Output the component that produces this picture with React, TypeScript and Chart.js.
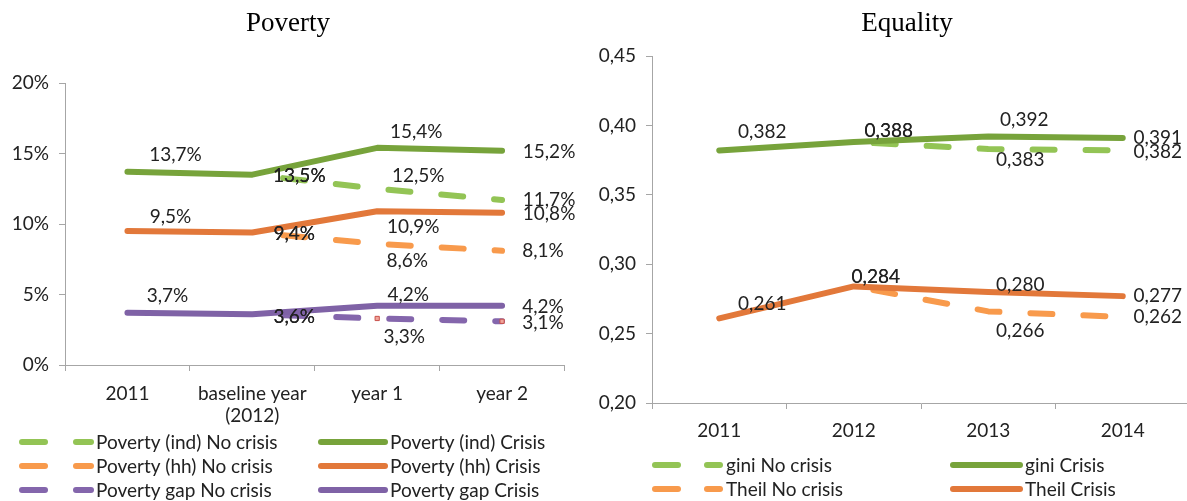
import React, { useEffect, useRef } from 'react';
import { Chart, registerables } from 'chart.js';

Chart.register(...registerables);

// ---------- DATA ----------
const povertyCategories: (string | string[])[] = ['2011', ['baseline year', '(2012)'], 'year 1', 'year 2'];
const povIndNoCrisis = [null, 13.5, 12.5, 11.7];
const povIndCrisis = [13.7, 13.5, 15.4, 15.2];
const povHhNoCrisis = [null, 9.4, 8.6, 8.1];
const povHhCrisis = [9.5, 9.4, 10.9, 10.8];
const povGapNoCrisis = [null, 3.6, 3.3, 3.1];
const povGapCrisis = [3.7, 3.6, 4.2, 4.2];
const povertyTicks = [0, 5, 10, 15, 20];

const equalityCategories = ['2011', '2012', '2013', '2014'];
const giniNoCrisis = [null, 0.388, 0.383, 0.382];
const giniCrisis = [0.382, 0.388, 0.392, 0.391];
const theilNoCrisis = [null, 0.284, 0.266, 0.262];
const theilCrisis = [0.261, 0.284, 0.28, 0.277];
const equalityTicks = [0.2, 0.25, 0.3, 0.35, 0.4, 0.45];

// ---------- STYLE / LAYOUT ----------
const FONT = 'Lato, "Open Sans", sans-serif';
const TEXT = '#222222';
const AXIS = '#A6A6A6';
const GREEN = '#77A33B';
const GREEN_L = '#93C455';
const ORANGE = '#E2783A';
const ORANGE_L = '#F89A4C';
const PURPLE = '#7F62A6';
const PURPLE_L = '#8466AC';

// label offsets (dx, dy) relative to each point
const offIndNo = [null, [47, 1], [41, -13], [47, 0]];
const offIndCr = [[48, -17], [47, 1], [39, -16], [47, 1]];
const offHhNo = [null, [42, 1.5], [30, 17], [41, 0]];
const offHhCr = [[43, -14], [42, 1.5], [36, 16], [47, 1]];
const offGapNo = [null, [42, 3], [27, 18], [41, 2]];
const offGapCr = [[40, -17], [42, 3], [31, -11], [41, 1]];

const offGiniNo = [null, [35, -11], [32, 11], [35, 1.5]];
const offGiniCr = [[43, -19], [35, -11], [36, -16.5], [35, 0]];
const offTheilNo = [null, [22, -10], [32, 19], [35, 0]];
const offTheilCr = [[43, -14], [22, -10], [32, -7], [35, 0]];

const titlePlugin = {
  id: 'sketchTitle',
  afterDraw(chart: any, _a: any, opts: any) {
    const ctx = chart.ctx;
    ctx.save();
    ctx.font = '27px "Liberation Serif", "Times New Roman", serif';
    ctx.fillStyle = '#000';
    ctx.textAlign = 'center';
    ctx.textBaseline = 'alphabetic';
    ctx.fillText(opts.text, opts.x, opts.y);
    ctx.restore();
  },
};

const pointLabelPlugin = {
  id: 'pointLabels',
  afterDatasetsDraw(chart: any, _a: any, opts: any) {
    const ctx = chart.ctx;
    ctx.save();
    ctx.font = `19px ${FONT}`;
    ctx.fillStyle = TEXT;
    ctx.textAlign = 'center';
    ctx.textBaseline = 'middle';
    chart.data.datasets.forEach((ds: any, i: number) => {
      const meta = chart.getDatasetMeta(i);
      const offs = opts.offsets[i];
      ds.data.forEach((v: number | null, j: number) => {
        if (v === null || !offs || !offs[j]) return;
        const pt = meta.data[j];
        ctx.fillText(opts.format(v), pt.x + offs[j][0], pt.y + offs[j][1]);
      });
    });
    ctx.restore();
  },
};

const legendPlugin = {
  id: 'sketchLegend',
  afterDraw(chart: any, _a: any, opts: any) {
    const ctx = chart.ctx;
    ctx.save();
    ctx.font = `19px ${FONT}`;
    ctx.fillStyle = TEXT;
    ctx.textAlign = 'left';
    ctx.textBaseline = 'middle';
    opts.items.forEach((it: any) => {
      const ds = chart.data.datasets[it.ds];
      ctx.strokeStyle = ds.borderColor;
      ctx.lineWidth = 6;
      ctx.lineCap = 'round';
      it.segs.forEach((s: number[]) => {
        ctx.beginPath();
        ctx.moveTo(s[0] + 3, it.y);
        ctx.lineTo(s[1] - 3, it.y);
        ctx.stroke();
      });
      ctx.fillText(ds.label, it.tx, it.y + 1);
    });
    ctx.restore();
  },
};

function lineDs(label: string, data: (number | null)[], color: string, dashed: boolean, dashOffset: number, extra: any = {}) {
  return {
    label,
    data,
    borderColor: color,
    backgroundColor: color,
    borderWidth: 6,
    borderCapStyle: 'round',
    borderJoinStyle: 'round',
    borderDash: dashed ? [22, 31] : [],
    borderDashOffset: dashOffset,
    pointRadius: 0,
    pointHoverRadius: 0,
    tension: 0,
    fill: false,
    spanGaps: false,
    order: dashed ? 1 : 0,
    ...extra,
  };
}

function axisCfg(ticks: number[], fmt: (v: number) => string, yWidth: number) {
  return {
    type: 'linear',
    min: ticks[0],
    max: ticks[ticks.length - 1],
    afterBuildTicks: (ax: any) => {
      ax.ticks = ticks.map((v) => ({ value: v }));
    },
    afterFit: (ax: any) => {
      ax.width = yWidth;
    },
    grid: { drawOnChartArea: false, drawTicks: true, tickLength: 6, color: AXIS, lineWidth: 1 },
    border: { color: AXIS, width: 1 },
    ticks: { font: { family: FONT, size: 19 }, color: TEXT, padding: 10, callback: (v: any) => fmt(Number(v)) },
  };
}

function xCfg(height: number, pad: number) {
  return {
    type: 'category',
    offset: true,
    afterFit: (ax: any) => {
      ax.height = height;
    },
    grid: { offset: true, drawOnChartArea: false, drawTicks: true, tickLength: 6, color: AXIS, lineWidth: 1 },
    border: { color: AXIS, width: 1 },
    ticks: { font: { family: FONT, size: 19, lineHeight: 1.2 }, color: TEXT, padding: pad, maxRotation: 0, autoSkip: false },
  };
}

function PovertyChart() {
  const ref = useRef<HTMLCanvasElement>(null);
  useEffect(() => {
    const chart = new Chart(ref.current as HTMLCanvasElement, {
      type: 'line',
      data: {
        labels: povertyCategories as any,
        datasets: [
          lineDs('Poverty (ind) No crisis', povIndNoCrisis, GREEN_L, true, 22),
          lineDs('Poverty (ind) Crisis', povIndCrisis, GREEN, false, 0),
          lineDs('Poverty (hh) No crisis', povHhNoCrisis, ORANGE_L, true, 22),
          lineDs('Poverty (hh) Crisis', povHhCrisis, ORANGE, false, 0),
          lineDs('Poverty gap No crisis', povGapNoCrisis, PURPLE_L, true, 22, {
            pointRadius: [0, 0, 3, 3],
            pointStyle: 'rect',
            pointBackgroundColor: '#F0A49A',
            pointBorderColor: '#C8504A',
            pointBorderWidth: 1,
          }),
          lineDs('Poverty gap Crisis', povGapCrisis, PURPLE, false, 0),
        ] as any,
      },
      options: {
        responsive: false,
        animation: false,
        events: [],
        layout: { padding: { left: 0, right: 22.5, top: 83, bottom: 0 } },
        scales: {
          x: xCfg(136, 11) as any,
          y: axisCfg(povertyTicks, (v) => `${v}%`, 65) as any,
        },
        plugins: {
          legend: { display: false },
          title: { display: false },
          tooltip: { enabled: false },
          sketchTitle: { text: 'Poverty', x: 288, y: 31 },
          pointLabels: {
            offsets: [offIndNo, offIndCr, offHhNo, offHhCr, offGapNo, offGapCr],
            format: (v: number) => `${v.toFixed(1).replace('.', ',')}%`,
          },
          sketchLegend: {
            items: [
              { ds: 0, y: 442, segs: [[19, 48], [73, 94]], tx: 96 },
              { ds: 1, y: 442, segs: [[318, 388]], tx: 390 },
              { ds: 2, y: 466, segs: [[19, 48], [73, 94]], tx: 96 },
              { ds: 3, y: 466, segs: [[318, 388]], tx: 390 },
              { ds: 4, y: 490, segs: [[19, 48], [73, 94]], tx: 96 },
              { ds: 5, y: 490, segs: [[318, 388]], tx: 390 },
            ],
          },
        } as any,
      },
      plugins: [titlePlugin, pointLabelPlugin, legendPlugin],
    });
    return () => chart.destroy();
  }, []);
  return (
    <canvas
      ref={ref}
      width={587}
      height={501}
      style={{ position: 'absolute', left: 0, top: 0, width: 587, height: 501 }}
    />
  );
}

function EqualityChart() {
  const ref = useRef<HTMLCanvasElement>(null);
  useEffect(() => {
    const chart = new Chart(ref.current as HTMLCanvasElement, {
      type: 'line',
      data: {
        labels: equalityCategories,
        datasets: [
          lineDs('gini No crisis', giniNoCrisis, GREEN_L, true, 33),
          lineDs('gini Crisis', giniCrisis, GREEN, false, 0),
          lineDs('Theil No crisis', theilNoCrisis, ORANGE_L, true, 33),
          lineDs('Theil Crisis', theilCrisis, ORANGE, false, 0),
        ] as any,
      },
      options: {
        responsive: false,
        animation: false,
        events: [],
        layout: { padding: { left: 0, right: 0, top: 56, bottom: 0 } },
        scales: {
          x: xCfg(98, 10) as any,
          y: axisCfg(equalityTicks, (v) => v.toFixed(2).replace('.', ','), 65) as any,
        },
        plugins: {
          legend: { display: false },
          title: { display: false },
          tooltip: { enabled: false },
          sketchTitle: { text: 'Equality', x: 320, y: 31 },
          pointLabels: {
            offsets: [offGiniNo, offGiniCr, offTheilNo, offTheilCr],
            format: (v: number) => v.toFixed(3).replace('.', ','),
          },
          sketchLegend: {
            items: [
              { ds: 0, y: 465, segs: [[65, 94], [117, 136]], tx: 139 },
              { ds: 1, y: 465, segs: [[363, 436]], tx: 438 },
              { ds: 2, y: 489, segs: [[65, 94], [117, 136]], tx: 139 },
              { ds: 3, y: 489, segs: [[363, 436]], tx: 438 },
            ],
          },
        } as any,
      },
      plugins: [titlePlugin, pointLabelPlugin, legendPlugin],
    });
    return () => chart.destroy();
  }, []);
  return (
    <canvas
      ref={ref}
      width={603}
      height={501}
      style={{ position: 'absolute', left: 587, top: 0, width: 603, height: 501 }}
    />
  );
}

export default function App() {
  return (
    <div
      style={{
        position: 'absolute',
        left: 0,
        top: 0,
        width: 1187,
        height: 501,
        overflow: 'hidden',
        background: '#ffffff',
      }}
    >
      <PovertyChart />
      <EqualityChart />
    </div>
  );
}
